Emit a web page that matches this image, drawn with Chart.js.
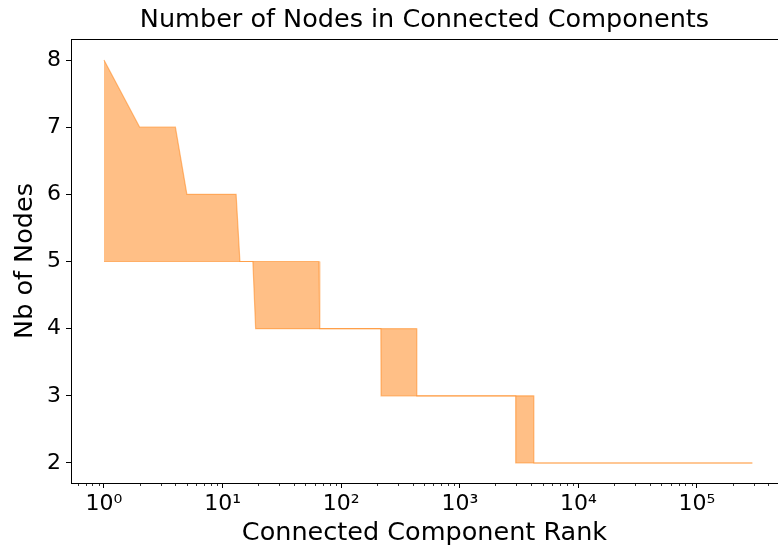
<!DOCTYPE html>
<html lang="en">
<head>
    <meta charset="UTF-8">
    <title>Number of Nodes in Connected Components</title>
    <script src="https://cdn.jsdelivr.net/npm/chart.js@4.4.1/dist/chart.umd.min.js"></script>
    <style>
        body {
            margin: 0;
            background-color: white;
        }
        .chart-box {
            width: 778px;
            height: 549px;
            position: relative;
        }
    </style>
</head>
<body>

    <div class="chart-box">
        <canvas id="componentChart"></canvas>
    </div>

    <script>
        // Component rank (x) and the lower / upper node counts of the shaded band
        const ranks = [1, 2, 4, 5, 13, 14, 18, 19, 65, 66, 216, 217, 433, 434, 2960, 2965, 4200, 4210, 293000];
        const upperNodes = [8, 7, 7, 6, 6, 5, 5, 5, 5, 4, 4, 4, 4, 3, 3, 3, 3, 2, 2];
        const lowerNodes = [5, 5, 5, 5, 5, 5, 5, 4, 4, 4, 4, 3, 3, 3, 3, 2, 2, 2, 2];

        // Tick labels
        const xMajorTicks = [1, 10, 100, 1000, 10000, 100000];
        const xTickLabels = ['10⁰', '10¹', '10²', '10³', '10⁴', '10⁵'];
        const yTicks = [2, 3, 4, 5, 6, 7, 8];

        const orange = 'rgba(255, 127, 14, 0.5)';

        Chart.defaults.font.family = "'DejaVu Sans', sans-serif";
        Chart.defaults.color = '#000';

        // minor ticks on the log axis
        const minorTicks = {
            id: 'minorTicks',
            afterDraw(chart) {
                const ctx = chart.ctx;
                const area = chart.chartArea;
                const xs = chart.scales.x;
                ctx.save();
                ctx.strokeStyle = '#000';
                ctx.lineWidth = 0.8;
                for (let p = -1; p <= 5; p++) {
                    for (let m = 2; m <= 9; m++) {
                        const v = m * Math.pow(10, p);
                        if (v < xs.min || v > xs.max) continue;
                        const px = Math.round(xs.getPixelForValue(v)) + 0.5;
                        ctx.beginPath();
                        ctx.moveTo(px, area.bottom);
                        ctx.lineTo(px, area.bottom + 3);
                        ctx.stroke();
                    }
                }
                ctx.restore();
            }
        };

        var ctx1 = document.getElementById('componentChart').getContext('2d');
        var componentChart = new Chart(ctx1, {
            type: 'line',
            data: {
                datasets: [{
                    label: 'lower',
                    xAxisID: 'x',
                    yAxisID: 'y',
                    data: ranks.map((r, i) => ({ x: r, y: lowerNodes[i] })),
                    borderColor: orange,
                    borderWidth: 1.2,
                    pointRadius: 0,
                    fill: false
                }, {
                    label: 'upper',
                    xAxisID: 'x',
                    yAxisID: 'y',
                    data: ranks.map((r, i) => ({ x: r, y: upperNodes[i] })),
                    borderColor: orange,
                    backgroundColor: orange,
                    borderWidth: 1.2,
                    pointRadius: 0,
                    fill: '-1'
                }]
            },
            options: {
                responsive: true,
                maintainAspectRatio: false,
                animation: false,
                layout: { padding: 0 },
                plugins: {
                    legend: { display: false },
                    tooltip: { enabled: false }
                },
                scales: {
                    x: {
                        type: 'logarithmic',
                        min: 0.527,
                        max: 482000,
                        afterBuildTicks: (scale) => {
                            scale.ticks = xMajorTicks.map(v => ({ value: v }));
                        },
                        afterFit: (scale) => { scale.height = 66; },
                        grid: {
                            drawOnChartArea: false,
                            tickLength: 5,
                            tickColor: '#000'
                        },
                        border: { color: '#000', width: 1 },
                        ticks: {
                            autoSkip: false,
                            maxRotation: 0,
                            padding: 3,
                            font: { size: 22 },
                            callback: (value) => {
                                const i = xMajorTicks.indexOf(value);
                                return i >= 0 ? xTickLabels[i] : '';
                            }
                        },
                        title: {
                            display: true,
                            text: 'Connected Component Rank',
                            font: { size: 25.5 },
                            padding: { top: 0, bottom: 0 }
                        }
                    },
                    y: {
                        min: 1.702,
                        max: 8.313,
                        afterBuildTicks: (scale) => {
                            scale.ticks = yTicks.map(v => ({ value: v }));
                        },
                        afterFit: (scale) => { scale.width = 71; },
                        grid: {
                            drawOnChartArea: false,
                            tickLength: 5,
                            tickColor: '#000'
                        },
                        border: { color: '#000', width: 1 },
                        ticks: {
                            padding: 5,
                            font: { size: 22 }
                        },
                        title: {
                            display: true,
                            text: 'Nb of Nodes',
                            font: { size: 25.5 },
                            padding: { top: 10, bottom: 0 }
                        }
                    },
                    // top axis: carries the chart title (centred on the plot) and the top spine
                    top: {
                        type: 'linear',
                        axis: 'x',
                        position: 'top',
                        min: 0,
                        max: 1,
                        afterFit: (scale) => { scale.height = 39; },
                        grid: { display: false },
                        border: { color: '#000', width: 1 },
                        ticks: { display: false },
                        title: {
                            display: true,
                            text: 'Number of Nodes in Connected Components',
                            font: { size: 25.5 },
                            padding: { top: 5, bottom: 0 }
                        }
                    }
                }
            },
            plugins: [minorTicks]
        });
    </script>

</body>
</html>
